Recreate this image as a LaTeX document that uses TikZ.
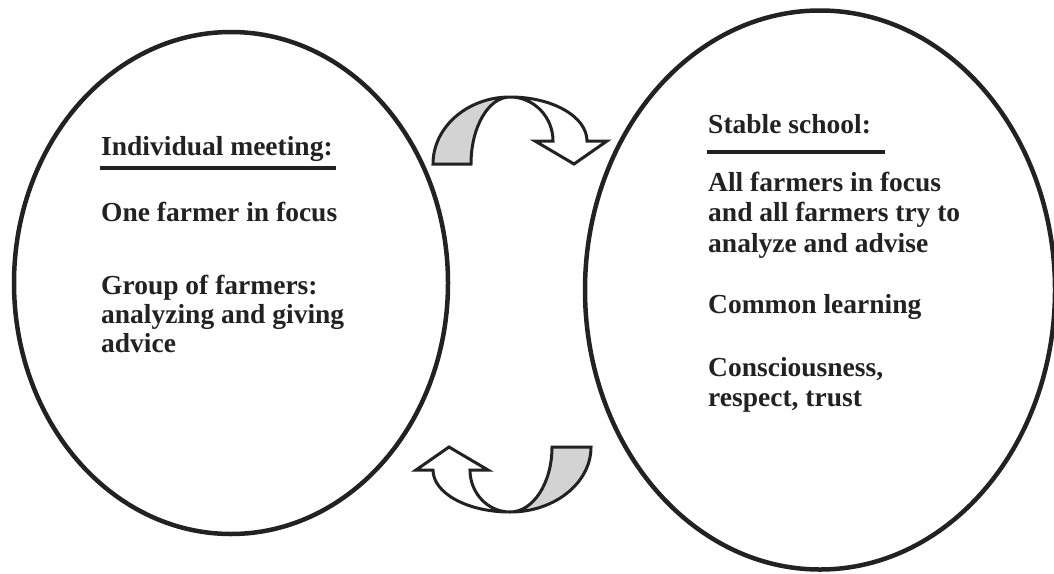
\documentclass[tikz,border=0pt]{standalone}
\usepackage{fontspec}
\setmainfont{Liberation Serif}
\usetikzlibrary{shapes.geometric}
\definecolor{ink}{HTML}{222222}
\definecolor{band}{HTML}{D3D3D3}
\begin{document}
\begin{tikzpicture}[x=1pt,y=-1pt,
  oval/.style={draw=ink, line width=4.5pt, ellipse, inner sep=0pt},
  txt/.style={anchor=base west, inner sep=0pt, font=\fontsize{27.5}{30}\selectfont\bfseries, text=ink},
  ul/.style={line width=3.5pt, draw=ink},
  backband/.style={draw=ink, fill=band, line width=3pt, line join=miter},
  frontband/.style={draw=ink, fill=white, line width=3pt, line join=miter},
]
\useasboundingbox (0,0) rectangle (1054,573);
\node[oval, minimum width=434pt, minimum height=502pt] (L) at (231,283) {};
\node[oval, minimum width=470pt, minimum height=559pt] (R) at (820,290) {};

% left texts
\node[txt] (l1) at (101,155) {Individual meeting:};
\coordinate (lu1) at (100,168);
\coordinate (lu2) at (336,168);
\draw[ul] (lu1) -- (lu2);
\node[txt] (l2) at (101,221) {One farmer in focus};
\node[txt] (l3) at (101,294) {Group of farmers:};
\node[txt] (l4) at (101,323) {analyzing and giving};
\node[txt] (l5) at (101,352) {advice};

% right texts
\node[txt] (r1) at (708,133) {Stable school:};
\coordinate (ru1) at (707,152);
\coordinate (ru2) at (885,152);
\draw[ul] (ru1) -- (ru2);
\node[txt] (r2) at (708,191) {All farmers in focus};
\node[txt] (r3) at (708,221) {and all farmers try to};
\node[txt] (r4) at (708,252) {analyze and advise};
\node[txt] (r5) at (708,313) {Common learning};
\node[txt] (r6) at (708,376) {Consciousness,};
\node[txt] (r7) at (708,406) {respect, trust};

% top curved arrow
\coordinate (T) at (510,97);
\draw[backband] (T) .. controls (467.5,97) and (433,127) .. (433,164)
  -- (471,164) .. controls (471,127) and (488.5,97) .. (T) -- cycle;
\draw[frontband] (T) .. controls (533.7,97) and (553,116.7) .. (553,141)
  -- (535,141) -- (574,164) -- (607,141) -- (587,141)
  .. controls (587,116.7) and (552.5,97) .. (T) -- cycle;

% bottom curved arrow
\coordinate (B) at (510,512);
\draw[backband] (B) .. controls (554.7,512) and (591,482.9) .. (591,447)
  -- (552,447) .. controls (552,482.9) and (533.2,512) .. (B) -- cycle;
\draw[frontband] (B) .. controls (467.5,512) and (433,493.2) .. (433,470)
  -- (416,470) -- (449,447) -- (488,470) -- (470,470)
  .. controls (470,493.2) and (487.9,512) .. (B) -- cycle;
\end{tikzpicture}
\end{document}
